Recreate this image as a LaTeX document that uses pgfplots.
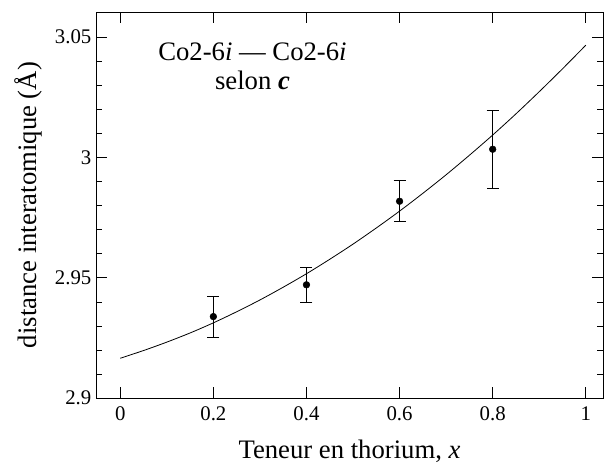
\documentclass[border=0pt]{standalone}
\usepackage{fontspec}
\setmainfont{Liberation Serif}
\usepackage{pgfplots}
\pgfplotsset{compat=1.18}
\begin{document}
\begin{tikzpicture}
\begin{axis}[
  scale only axis,
  width=380pt, height=289.5pt,
  xmin=-0.052, xmax=1.037,
  ymin=2.9, ymax=3.0604,
  xtick={0,0.2,0.4,0.6,0.8,1},
  xticklabels={0,0.2,0.4,0.6,0.8,1},
  ytick={2.9,2.95,3,3.05},
  yticklabels={2.9,2.95,3,3.05},
  /pgf/number format/assume math mode=true,
  minor y tick num=4,
  tick align=inside,
  major tick length=8.25pt,
  minor tick length=4.5pt,
  axis line style={line width=0.75pt},
  every tick/.style={black, line width=0.6pt},
  tick label style={font=\fontsize{15.6}{18}\selectfont},
  x tick label style={yshift=-3pt},
  xlabel={Teneur en thorium, \textit{x}},
  ylabel={distance interatomique (Å)},
  label style={font=\fontsize{20}{24}\selectfont},
  x label style={at={(axis description cs:0.5,-0.137)}, anchor=center},
  y label style={at={(axis description cs:-0.134,0.5)}, anchor=center},
  clip=false,
]
\addplot[black, line width=0.6pt, no marks, smooth] coordinates {
(0,2.9166) (0.05,2.9198) (0.1,2.9233) (0.15,2.9271) (0.2,2.9313)
(0.25,2.9359) (0.3,2.9408) (0.35,2.9461) (0.4,2.9517) (0.45,2.9577)
(0.5,2.9640) (0.55,2.9707) (0.6,2.9777) (0.65,2.9851) (0.7,2.9928)
(0.75,3.0009) (0.8,3.0093) (0.85,3.0181) (0.9,3.0273) (0.95,3.0368)
(1,3.0466)
};
\addplot[only marks, black, mark=*, mark size=2.5pt,
  error bars/.cd, y dir=both, y explicit,
  error bar style={black, line width=0.6pt},
  error mark options={black, rotate=90, mark size=4.5pt, line width=0.6pt}]
  coordinates {
  (0.2,2.9339) +- (0,0.0085)
  (0.4,2.9471) +- (0,0.0071)
  (0.6,2.9818) +- (0,0.0085)
  (0.8,3.0034) +- (0,0.0162)
};
\node[align=center, font=\fontsize{20}{22}\selectfont] at (axis cs:0.284,3.0378)
  {Co2-6\textit{i} — Co2-6\textit{i}\\selon \textbf{\textit{c}}};
\path (rel axis cs:0,0) ++(-72pt,-45.75pt) coordinate (bl);
\path (rel axis cs:1,1) ++(0.75pt,9pt) coordinate (tr);
\end{axis}
\path (bl) (tr);
\end{tikzpicture}
\end{document}
